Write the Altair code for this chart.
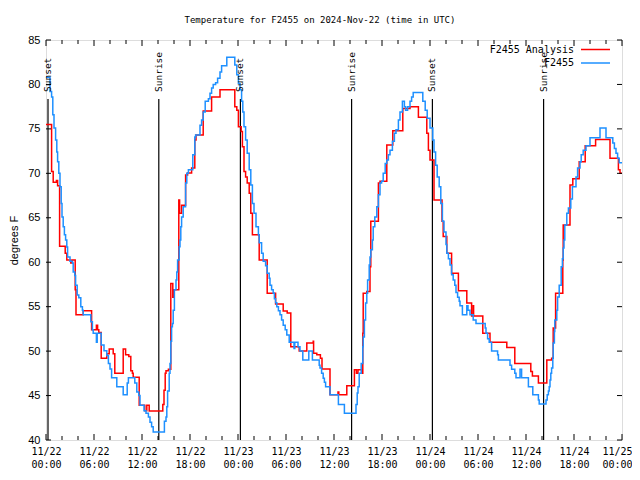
import json
import altair as alt
import pandas as pd

# ---------------- data (hours since 2024-11-22 00:00 UTC, deg F) ----------------
obs_hours = [0.0,0.5,0.7,0.85,1.0,1.2,1.35,1.45,1.6,1.75,1.9,2.0,2.15,2.3,2.45,2.6,2.7,3.0,3.3,3.4,3.6,3.7,3.9,4.1,4.35,4.55,4.65,5.6,5.8,5.9,6.3,6.4,6.9,7.25,7.6,7.8,8.0,8.2,8.85,9.65,10.15,10.3,11.1,11.35,11.6,11.75,12.25,12.5,12.8,13.0,13.2,13.4,14.8,15.0,15.1,15.2,15.4,15.5,15.6,15.7,15.8,15.9,16.05,16.25,16.35,16.45,16.65,16.75,16.85,16.95,17.15,17.45,17.6,17.8,18.35,18.6,18.7,19.25,19.45,19.65,19.9,20.3,20.5,20.7,20.9,21.2,21.45,21.75,21.95,22.6,23.6,23.85,24.05,24.25,24.45,24.6,24.75,24.95,25.15,25.4,25.6,25.8,26.0,26.25,26.55,26.65,26.95,27.15,27.45,27.65,27.9,28.0,28.2,28.4,28.55,28.7,28.85,29.05,29.25,29.45,29.65,29.9,30.1,30.4,31.0,31.1,31.5,31.75,32.1,32.85,33.3,34.15,34.25,34.45,34.65,34.8,34.95,35.5,36.55,37.3,38.75,38.9,39.0,39.15,39.4,39.6,39.65,39.8,39.95,40.1,40.2,40.4,40.5,40.6,40.8,40.9,41.1,41.35,41.55,41.75,41.95,42.15,42.4,42.6,42.8,43.0,43.3,43.55,43.75,44.05,44.25,44.55,44.8,44.95,45.2,45.5,45.7,45.9,47.1,47.4,47.65,48.0,48.35,48.5,48.7,48.9,49.15,49.35,49.55,49.75,50.0,50.1,50.3,50.5,50.7,50.9,51.1,51.25,51.45,51.65,51.75,52.05,52.6,52.75,53.0,53.4,53.75,54.9,55.0,55.2,55.4,55.7,56.45,56.55,58.0,58.2,58.6,58.75,59.25,59.45,60.3,60.85,61.55,61.65,62.5,62.65,62.8,62.9,63.0,63.1,63.2,63.35,63.4,63.55,63.6,63.85,63.95,64.15,64.4,64.55,64.65,64.75,64.85,65.1,65.3,65.6,65.8,66.25,66.45,66.75,66.9,67.15,67.5,68.0,69.25,70.0,70.85,71.05,71.25,71.45,71.65,72.0]
obs_temps = [80.8,79.2,78.6,76.6,75.1,73.75,72.4,71.3,70.0,68.5,66.6,65.1,64.0,63.1,62.5,61.7,60.6,60.1,59.9,58.9,58.5,57.4,56.3,56.0,55.0,54.6,54.1,53.3,52.4,52.0,51.0,52.0,50.7,50.05,49.5,48.6,48.0,47.0,46.0,45.1,46.4,47.0,46.4,45.4,45.0,43.9,43.3,43.0,42.6,42.0,41.5,40.9,42.1,42.6,43.75,45.5,47.5,48.6,51.1,52.75,53.1,54.6,56.9,58.0,58.9,60.25,61.75,62.5,64.0,65.1,66.25,68.9,70.0,70.4,72.1,74.1,74.3,75.4,76.0,76.9,78.1,78.4,79.0,79.6,80.0,80.2,80.7,81.4,82.1,83.05,82.2,81.1,80.1,79.4,78.1,76.9,75.25,73.75,72.25,70.4,68.7,66.6,65.5,64.0,63.1,62.2,61.0,60.1,59.6,58.75,58.2,57.4,56.9,56.5,55.9,55.45,55.0,54.55,54.1,53.5,52.9,52.4,51.8,51.0,50.3,51.0,50.5,50.0,49.0,50.0,49.0,48.4,48.1,47.5,46.95,46.5,46.0,45.1,44.0,43.0,44.0,45.3,46.0,47.5,48.6,50.5,51.6,53.5,55.4,56.5,58.0,59.7,60.6,61.4,62.5,64.0,65.1,66.25,67.6,68.9,69.1,70.0,71.1,71.5,72.1,72.6,73.6,74.5,74.9,76.0,76.9,78.1,77.5,77.1,77.5,78.1,78.6,79.1,78.1,77.1,76.2,75.1,73.75,72.4,70.9,69.6,68.5,66.6,64.6,63.4,62.0,61.0,60.4,59.7,58.6,58.0,57.4,56.6,56.05,55.6,55.1,54.1,55.1,54.6,54.1,53.5,53.1,52.6,52.0,51.4,51.0,50.0,49.6,49.0,48.4,47.95,47.5,47.0,47.95,47.0,46.0,45.1,44.5,44.05,44.5,45.1,45.5,46.0,46.75,47.5,48.1,49.2,50.9,52.2,53.5,54.6,56.1,57.4,59.5,60.4,61.6,62.5,64.2,65.5,66.1,67.1,68.5,69.6,70.6,71.3,72.1,72.6,73.1,74.0,75.1,74.0,73.4,72.8,72.25,71.7,71.2,71.2]

ana_hours = [0.0,0.7,0.9,1.3,1.45,1.7,2.4,2.6,3.1,3.3,3.65,3.75,4.65,5.7,6.3,6.45,6.6,6.9,7.6,7.9,8.4,8.6,9.65,9.95,10.35,10.6,10.8,10.9,11.65,12.35,12.6,12.9,14.6,14.75,14.9,15.0,15.3,15.6,15.85,16.0,16.6,16.7,16.95,17.45,17.7,18.2,18.6,18.75,19.65,20.7,21.75,23.6,23.85,24.05,24.4,24.55,24.75,24.95,25.15,25.4,25.6,25.8,26.65,27.65,28.7,29.65,30.15,30.6,31.65,32.6,33.4,33.45,33.85,34.3,34.5,35.5,36.5,36.6,37.6,38.55,38.8,39.0,39.5,39.6,39.65,40.1,40.5,40.6,41.55,41.75,42.6,43.35,44.6,45.5,46.55,47.6,47.8,48.0,48.5,49.5,49.65,50.1,50.7,51.55,52.6,53.2,53.4,53.45,54.6,55.5,57.6,58.6,60.6,60.8,61.55,62.6,63.2,63.4,63.7,64.6,64.65,65.5,65.85,66.65,67.4,68.7,70.5,71.55,71.75,72.0]
ana_temps = [75.5,70.2,69.0,69.2,68.6,61.8,61.0,60.25,59.9,60.25,56.9,54.1,54.55,52.4,52.9,52.4,52.1,49.2,49.7,50.25,49.7,47.5,50.25,49.6,49.4,47.8,47.5,47.05,43.9,43.3,43.9,43.25,44.0,45.6,47.5,47.8,47.95,57.6,56.05,56.9,67.0,65.5,66.4,69.8,70.05,70.6,73.75,74.3,77.0,78.6,79.4,77.5,77.1,75.25,74.7,73.0,70.2,69.6,68.9,67.75,65.5,63.1,60.25,56.5,55.3,54.5,54.3,50.5,50.0,50.9,51.1,49.75,49.6,49.2,48.0,45.1,45.4,45.1,46.1,47.9,47.5,47.9,47.5,52.0,56.5,56.7,59.5,64.6,68.9,69.1,73.2,74.8,77.3,77.5,76.3,74.5,72.6,71.5,67.0,64.6,62.9,61.0,58.75,56.8,55.4,53.95,55.1,53.95,52.0,51.0,50.4,48.6,47.7,47.2,46.4,49.0,49.2,52.6,56.5,60.25,64.2,68.7,69.4,71.3,73.1,73.8,71.7,70.4,70.0,70.0]

event_hours = [0.25, 14.1, 24.3, 38.2, 48.3, 62.2]
event_labels = ["Sunset", "Sunrise", "Sunset", "Sunrise", "Sunset", "Sunrise"]

x_major = [0, 6, 12, 18, 24, 30, 36, 42, 48, 54, 60, 66, 72]
x_dates = ["11/22", "11/22", "11/22", "11/22", "11/23", "11/23", "11/23", "11/23",
           "11/24", "11/24", "11/24", "11/24", "11/25"]
x_times = ["00:00", "06:00", "12:00", "18:00"] * 3 + ["00:00"]
x_minor = [2, 4, 8, 10, 14, 16, 20, 22, 26, 28, 32, 34, 38, 40, 44, 46, 50, 52, 56, 58, 62, 64, 68, 70]
y_ticks = [40, 45, 50, 55, 60, 65, 70, 75, 80, 85]

series_names = ["F2455 Analysis", "F2455"]
series_colors = ["#ff0000", "#1e90ff"]
title_text = "Temperature for F2455 on 2024-Nov-22 (time in UTC)"
y_title = "degrees F"

# ---------------- layout / style ----------------
W, H = 576, 400
MONO = "DejaVu Sans Mono"
SANS = "Liberation Sans"

x_scale = alt.Scale(domain=[0, 72], nice=False, zero=False)
y_scale = alt.Scale(domain=[40, 85], nice=False, zero=False)

label_expr = "[{d}[round(datum.value/6)], {t}[round(datum.value/6)]]".format(
    d=json.dumps(x_dates), t=json.dumps(x_times))

x_axis = alt.Axis(values=x_major, labelExpr=label_expr, title=None, ticks=False,
                  domain=False, grid=False, labelFont=MONO, labelFontSize=10,
                  labelLineHeight=13, labelPadding=6, labelColor="black",
                  labelFlush=False, labelOverlap=False,
                  labelOffset={"condition": {"test": "datum.value >= 72", "value": -5}, "value": 0})
y_axis = alt.Axis(values=y_ticks, title=y_title, ticks=False, domain=False, grid=False,
                  labelFont=SANS, labelFontSize=11, labelPadding=6, labelColor="black",
                  titleFont=SANS, titleFontSize=11, titleFontWeight="normal",
                  titleColor="black", titleAngle=270, titleX=-32, titleY=H / 2,
                  titleAlign="center", titleBaseline="middle")

X = alt.X("h:Q", scale=x_scale, axis=x_axis)
Y = alt.Y("t:Q", scale=y_scale, axis=y_axis)

obs_df = pd.DataFrame({"h": obs_hours, "t": obs_temps})
ana_df = pd.DataFrame({"h": ana_hours, "t": ana_temps})
ev_df = pd.DataFrame({"h": event_hours, "label": event_labels})
xmaj_df = pd.DataFrame({"h": x_major})
xmin_df = pd.DataFrame({"h": x_minor})
yt_df = pd.DataFrame({"t": y_ticks})

ev_rules = alt.Chart(ev_df).mark_rule(color="black", strokeWidth=1.2).encode(
    x=X, y=alt.value(59), y2=alt.value(H))
ev_text = alt.Chart(ev_df).mark_text(angle=270, align="left", baseline="middle",
                                     font=MONO, fontSize=9.5, color="black").encode(
    x=X, y=alt.value(52), text="label:N")

ana_line = alt.Chart(ana_df).mark_line(interpolate="step-after", color=series_colors[0],
                                       strokeWidth=1.5).encode(x=X, y=Y)
obs_line = alt.Chart(obs_df).mark_line(interpolate="step-after", color=series_colors[1],
                                       strokeWidth=1.5).encode(x=X, y=Y)

tick_layers = []
for df_, ln in ((xmaj_df, 6), (xmin_df, 4)):
    tick_layers.append(alt.Chart(df_).mark_rule(color="black").encode(
        x=X, y=alt.value(H), y2=alt.value(H - ln)))
    tick_layers.append(alt.Chart(df_).mark_rule(color="black").encode(
        x=X, y=alt.value(0), y2=alt.value(ln)))
tick_layers.append(alt.Chart(yt_df).mark_rule(color="black").encode(
    y=Y, x=alt.value(0), x2=alt.value(5)))
tick_layers.append(alt.Chart(yt_df).mark_rule(color="black").encode(
    y=Y, x=alt.value(W - 5), x2=alt.value(W)))

legend_layers = []
for i, (name, col) in enumerate(zip(series_names, series_colors)):
    ly = 9.5 + 13.5 * i
    ldf = pd.DataFrame({"label": [name]})
    legend_layers.append(alt.Chart(ldf).mark_text(align="right", baseline="middle",
                                                  font=MONO, fontSize=10, color="black").encode(
        text="label:N", x=alt.value(528), y=alt.value(ly)))
    legend_layers.append(alt.Chart(ldf).mark_rule(color=col, strokeWidth=1.5).encode(
        x=alt.value(535), x2=alt.value(564), y=alt.value(ly)))

chart = alt.layer(ev_rules, ana_line, obs_line, *tick_layers, ev_text, *legend_layers).properties(
    width=W, height=H,
    title=alt.TitleParams(title_text, font=MONO, fontSize=9, fontWeight="normal",
                          color="black", anchor="middle", dx=-14, offset=9),
    autosize=alt.AutoSizeParams(type="none"),
    padding={"left": 38, "top": 32, "right": 10, "bottom": 34},
).configure_view(stroke="black", strokeWidth=1).configure(background="white")

chart.save("out.html", embed_options={"renderer": "svg", "actions": False})
